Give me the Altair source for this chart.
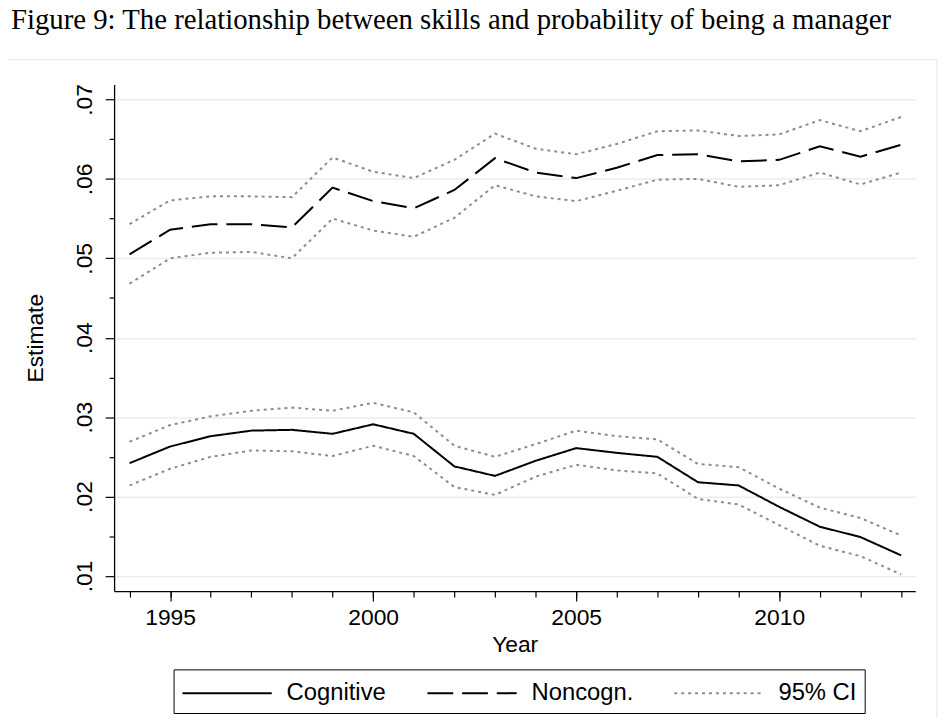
import altair as alt
import pandas as pd

years = list(range(1994, 2014))

cognitive = [0.0242, 0.0263, 0.0276, 0.0283, 0.0284, 0.0279, 0.0291, 0.0279, 0.0238, 0.0226,
             0.0245, 0.0261, 0.0255, 0.0250, 0.0218, 0.0214, 0.0187, 0.0162, 0.0149, 0.0126]
cognitive_hi = [0.0269, 0.0290, 0.0301, 0.0308, 0.0312, 0.0308, 0.0318, 0.0306, 0.0264, 0.0250,
                0.0266, 0.0283, 0.0276, 0.0272, 0.0241, 0.0237, 0.0210, 0.0186, 0.0173, 0.0151]
cognitive_lo = [0.0214, 0.0235, 0.0250, 0.0258, 0.0257, 0.0251, 0.0264, 0.0251, 0.0212, 0.0202,
                0.0225, 0.0240, 0.0233, 0.0229, 0.0197, 0.0190, 0.0164, 0.0138, 0.0125, 0.0102]

noncogn = [0.0505, 0.0536, 0.0543, 0.0543, 0.0539, 0.0589, 0.0572, 0.0563, 0.0586, 0.0626,
           0.0608, 0.0601, 0.0614, 0.0630, 0.0631, 0.0622, 0.0624, 0.0641, 0.0628, 0.0643]
noncogn_hi = [0.0543, 0.0573, 0.0578, 0.0578, 0.0577, 0.0627, 0.0609, 0.0601, 0.0624, 0.0657,
              0.0638, 0.0631, 0.0644, 0.0660, 0.0661, 0.0654, 0.0656, 0.0674, 0.0660, 0.0678]
noncogn_lo = [0.0468, 0.0500, 0.0507, 0.0508, 0.0500, 0.0550, 0.0535, 0.0527, 0.0551, 0.0592,
              0.0578, 0.0572, 0.0585, 0.0599, 0.0600, 0.0590, 0.0592, 0.0608, 0.0593, 0.0608]

types = ["Cognitive", "Noncogn.", "95% CI"]
type_colors = ["#000000", "#000000", "#8c8c8c"]
type_dashes = [[1, 0], [26, 9], [3, 4]]

x_major = [1995, 2000, 2005, 2010]
x_minor = years
y_major = [0.01, 0.02, 0.03, 0.04, 0.05, 0.06, 0.07]
y_minor = [0.015, 0.025, 0.035, 0.045, 0.055, 0.065]

title_text = "Figure 9: The relationship between skills and probability of being a manager"

series = [
    ("Cognitive", "cog", cognitive),
    ("95% CI", "cog_hi", cognitive_hi),
    ("95% CI", "cog_lo", cognitive_lo),
    ("Noncogn.", "non", noncogn),
    ("95% CI", "non_hi", noncogn_hi),
    ("95% CI", "non_lo", noncogn_lo),
]
rows = []
for typ, line, vals in series:
    for yr, v in zip(years, vals):
        rows.append({"year": yr, "value": v, "type": typ, "line": line})
df = pd.DataFrame(rows)

x_scale = alt.Scale(domain=[1993.62, 2013.35], nice=False, zero=False)
y_scale = alt.Scale(domain=[0.0081, 0.0719], nice=False, zero=False)

# legend sample: a 90px horizontal stroke drawn from a custom path (size 900 -> unit = 15px)
legend = alt.Legend(
    title=None, orient="none", legendX=60, legendY=590, direction="horizontal",
    symbolType="M-1,0H5", symbolSize=900, symbolStrokeWidth=2,
    labelFont="Liberation Sans", labelFontSize=24, labelColor="black",
    labelOffset=74, columnPadding=37, padding=8,
    strokeColor="black", fillColor="white", cornerRadius=0,
)
color = alt.Color("type:N", scale=alt.Scale(domain=types, range=type_colors), legend=legend)
dash = alt.StrokeDash("type:N", scale=alt.Scale(domain=types, range=type_dashes), legend=legend)

x_major_axis = alt.Axis(values=x_major, format="d", title="Year", tickSize=10, tickWidth=1.2,
                        labelPadding=6, titlePadding=4, grid=False, domainWidth=1.3, orient="bottom")
y_major_axis = alt.Axis(values=y_major, title="Estimate", tickSize=9, tickWidth=1.2,
                        labelAngle=270, labelAlign="center", labelBaseline="bottom",
                        labelExpr="replace(format(datum.value, '.2f'), '0.', '.')",
                        labelPadding=9, titlePadding=26, grid=True, gridColor="#e6eef2",
                        gridWidth=1.5, domainWidth=1.3, orient="left")
x_minor_axis = alt.Axis(values=x_minor, title=None, labels=False, tickSize=6, tickWidth=1.2,
                        domain=False, grid=False, orient="bottom")
y_minor_axis = alt.Axis(values=y_minor, title=None, labels=False, tickSize=5, tickWidth=1.2,
                        domain=False, grid=False, orient="left")

ci = alt.Chart(df).transform_filter(alt.datum.type == "95% CI").mark_line(strokeWidth=2).encode(
    x=alt.X("year:Q", scale=x_scale, axis=x_minor_axis),
    y=alt.Y("value:Q", scale=y_scale, axis=y_minor_axis),
    color=color, strokeDash=dash, detail="line:N",
)
main = alt.Chart(df).transform_filter(alt.datum.type != "95% CI").mark_line(strokeWidth=2).encode(
    x=alt.X("year:Q", scale=x_scale, axis=x_major_axis),
    y=alt.Y("value:Q", scale=y_scale, axis=y_major_axis),
    color=color, strokeDash=dash, detail="line:N",
)

frame_df = pd.DataFrame({"k": [0]})
frame_h = alt.Chart(frame_df).mark_rule(color="#e4ebef", strokeWidth=1.2).encode(
    x=alt.value(-115), x2=alt.value(830), y=alt.value(-25))
frame_v = alt.Chart(frame_df).mark_rule(color="#e4ebef", strokeWidth=1.2).encode(
    x=alt.value(830), y=alt.value(-25), y2=alt.value(640))

chart = alt.layer(frame_h, frame_v, ci, main).resolve_axis(
    x="independent", y="independent"
).resolve_scale(
    x="shared", y="shared"
).properties(
    width=808, height=511,
    autosize=alt.AutoSizeParams(type="none"),
    padding={"left": 107, "top": 74, "right": 29, "bottom": 125},
    title=alt.TitleParams(
        text=title_text, anchor="start", frame="group", font="Liberation Serif",
        fontSize=29, fontWeight="normal", color="black", dx=-104, dy=32, offset=33,
        baseline="alphabetic",
    ),
).configure_axis(
    labelFont="Liberation Sans", labelFontSize=23, labelColor="black",
    titleFont="Liberation Sans", titleFontSize=23, titleColor="black", titleFontWeight="normal",
    domainColor="black", tickColor="black",
).configure_view(strokeWidth=0)

chart.save("out.html", embed_options={"renderer": "svg", "actions": False})
